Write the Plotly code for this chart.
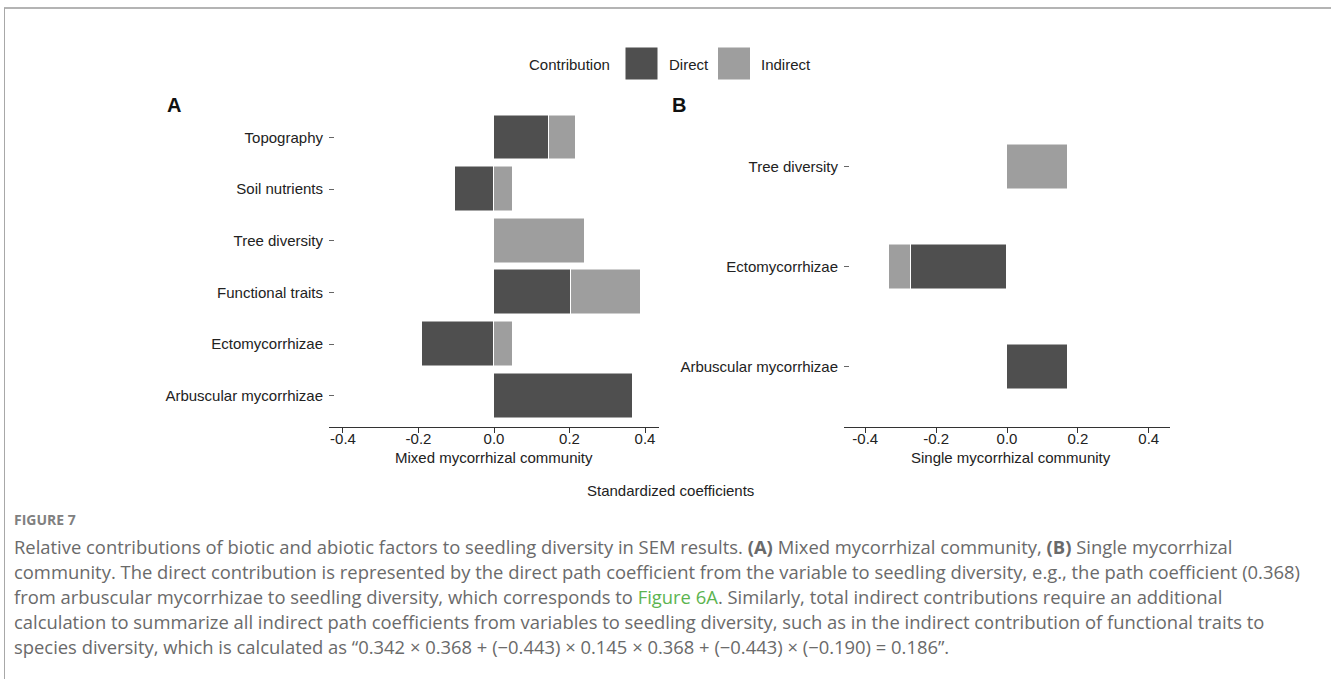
import plotly.graph_objects as go

# ---------------- data ----------------
cats_a = ["Topography", "Soil nutrients", "Tree diversity", "Functional traits",
          "Ectomycorrhizae", "Arbuscular mycorrhizae"]
direct_a = [0.145, -0.103, None, 0.203, -0.190, 0.368]
indirect_a = [0.072, 0.050, 0.240, 0.186, 0.050, None]

cats_b = ["Tree diversity", "Ectomycorrhizae", "Arbuscular mycorrhizae"]
direct_b = [None, -0.271, 0.173]
indirect_b = [0.172, -0.063, None]

tick_vals = [-0.4, -0.2, 0.0, 0.2, 0.4]
tick_text = ["-0.4", "-0.2", "0.0", "0.2", "0.4"]

series_names = ["Direct", "Indirect"]
series_colors = ["#4f4f4f", "#9e9e9e"]

caption_lines = [
    "Relative contributions of biotic and abiotic factors to seedling diversity in SEM results. "
    "<b>(A)</b> Mixed mycorrhizal community, <b>(B)</b> Single mycorrhizal",
    "community. The direct contribution is represented by the direct path coefficient from the "
    "variable to seedling diversity, e.g., the path coefficient (0.368)",
    "from arbuscular mycorrhizae to seedling diversity, which corresponds to "
    "<span style='color:#5cb450'>Figure 6A</span>. Similarly, total indirect contributions require an additional",
    "calculation to summarize all indirect path coefficients from variables to seedling diversity, "
    "such as in the indirect contribution of functional traits to",
    "species diversity, which is calculated as \u201c0.342 \u00d7 0.368 + (\u22120.443) \u00d7 0.145"
    " \u00d7 0.368 + (\u22120.443) \u00d7 (\u22120.190) = 0.186\u201d.",
]

# ---------------- layout helpers ----------------
W, H = 1331, 679


def px(x):
    return x / W


def py(y):
    return 1 - y / H


FONT = "Liberation Sans, Arial, sans-serif"
CAP_FONT = "Open Sans, Lato, sans-serif"

fig = go.Figure()

for name, color, vals_a, vals_b in [
    (series_names[0], series_colors[0], direct_a, direct_b),
    (series_names[1], series_colors[1], indirect_a, indirect_b),
]:
    fig.add_trace(go.Bar(
        y=cats_a, x=vals_a, orientation="h", name=name, xaxis="x", yaxis="y",
        marker=dict(color=color, line=dict(color="white", width=1)),
        width=0.87, showlegend=False, hoverinfo="x+y+name",
    ))
    fig.add_trace(go.Bar(
        y=cats_b, x=vals_b, orientation="h", name=name, xaxis="x2", yaxis="y2",
        marker=dict(color=color, line=dict(color="white", width=1)),
        width=0.45, showlegend=False, hoverinfo="x+y+name",
    ))

axis_common_x = dict(
    tickvals=tick_vals, ticktext=tick_text, showline=True, linecolor="#333333",
    linewidth=1, ticks="outside", ticklen=5, tickcolor="#333333", tickwidth=1,
    ticklabelstandoff=-7,
    showgrid=False, zeroline=False, tickfont=dict(family=FONT, size=15, color="#222222"),
    fixedrange=True,
)
axis_common_y = dict(
    type="category", showline=False, ticks="inside", ticklen=5, tickcolor="#666666",
    tickwidth=1, showgrid=False, zeroline=False, ticklabelstandoff=5,
    tickfont=dict(family=FONT, size=15, color="#222222"), fixedrange=True,
)

y_dom = [py(426.7), py(106.5)]

fig.update_layout(
    width=W, height=H, autosize=False,
    margin=dict(l=0, r=0, t=0, b=0),
    paper_bgcolor="white", plot_bgcolor="white",
    barmode="relative", bargap=0,
    xaxis=dict(domain=[px(329), px(659)], range=[-0.437, 0.437], anchor="y", **axis_common_x),
    yaxis=dict(domain=y_dom, anchor="x", categoryorder="array", categoryarray=cats_a,
               range=[len(cats_a) - 0.4, -0.6], **axis_common_y),
    xaxis2=dict(domain=[px(844), px(1170)], range=[-0.46, 0.46], anchor="y2", **axis_common_x),
    yaxis2=dict(domain=y_dom, anchor="x2", categoryorder="array", categoryarray=cats_b,
                range=[len(cats_b) - 0.4, -0.6], **axis_common_y),
)

shapes = [
    # page frame
    dict(type="line", xref="paper", yref="paper", x0=px(4), x1=1, y0=py(8), y1=py(8),
         line=dict(color="#b4b4b4", width=2)),
    dict(type="line", xref="paper", yref="paper", x0=px(4.5), x1=px(4.5), y0=py(8), y1=0,
         line=dict(color="#a8a8a8", width=1)),
    # legend keys
    dict(type="rect", xref="paper", yref="paper", x0=px(625.5), x1=px(657.5), y0=py(79.5), y1=py(47.5),
         fillcolor=series_colors[0], line=dict(width=0)),
    dict(type="rect", xref="paper", yref="paper", x0=px(718), x1=px(750), y0=py(79.5), y1=py(47.5),
         fillcolor=series_colors[1], line=dict(width=0)),
]

ann = []


def add_text(x, y, text, size=15, xanchor="center", color="#222222", family=FONT, bold=False):
    ann.append(dict(
        x=px(x), y=py(y), xref="paper", yref="paper", text=("<b>%s</b>" % text) if bold else text,
        showarrow=False, xanchor=xanchor, yanchor="middle",
        font=dict(family=family, size=size, color=color),
    ))


add_text(569.5, 64, "Contribution")
add_text(667, 64, series_names[0], xanchor="left")
add_text(759.5, 64, series_names[1], xanchor="left")
add_text(173.5, 104.5, "A", size=20, color="#111111", bold=True)
add_text(678.5, 104.5, "B", size=20, color="#111111", bold=True)
add_text(494, 457, "Mixed mycorrhizal community")
add_text(1011, 457, "Single mycorrhizal community")
add_text(670, 490, "Standardized coefficients")

add_text(12, 519, "FIGURE 7", size=14, xanchor="left", color="#808080", family=CAP_FONT, bold=True)
for i, line in enumerate(caption_lines):
    add_text(12, 546 + i * 25, line, size=18.4, xanchor="left", color="#6a6a6a", family=CAP_FONT)

fig.update_layout(shapes=shapes, annotations=ann)

fig.write_html(
    "out.html",
    config={"displayModeBar": False},
    post_script="document.body.style.margin='0';document.body.style.overflow='hidden';",
)
